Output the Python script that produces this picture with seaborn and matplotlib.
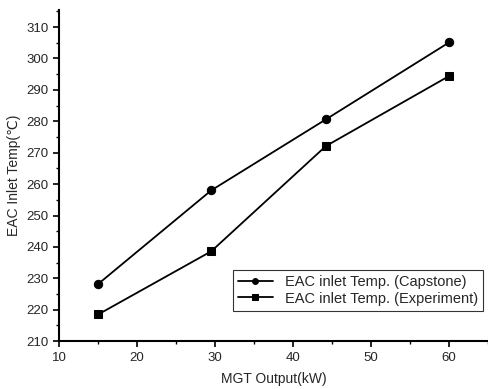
import pandas as pd
import seaborn as sns
import matplotlib.pyplot as plt
from matplotlib.ticker import MultipleLocator

# --- values ---
mgt_output = [15, 29.5, 44.2, 60]
capstone = [228.2, 258.0, 280.6, 305.1]
experiment = [218.5, 238.6, 272.1, 294.4]
series_names = ["EAC inlet Temp. (Capstone)", "EAC inlet Temp. (Experiment)"]

df = pd.DataFrame({
    "MGT": mgt_output * 2,
    "Temp": capstone + experiment,
    "Series": [series_names[0]] * 4 + [series_names[1]] * 4,
})

sns.set_theme(style="ticks")
plt.rcParams['font.family'] = ['Liberation Sans', 'DejaVu Sans']

fig = plt.figure(figsize=(4.89, 3.89), dpi=100)
ax = fig.add_axes([0.121, 0.123, 0.877, 0.851])

sns.lineplot(
    data=df, x="MGT", y="Temp", hue="Series", style="Series",
    palette=["black", "black"], markers=["o", "s"], dashes=False,
    markersize=6, linewidth=1.3, markeredgecolor="black", ax=ax,
)

ax.set_xlim(10, 65)
ax.set_ylim(210, 315.4)
ax.xaxis.set_major_locator(MultipleLocator(10))
ax.xaxis.set_minor_locator(MultipleLocator(5))
ax.yaxis.set_major_locator(MultipleLocator(10))
ax.yaxis.set_minor_locator(MultipleLocator(5))
ax.tick_params(which="major", direction="out", length=4, width=1.2, labelsize=9.5, color="black")
ax.tick_params(which="minor", direction="out", length=2, width=1, color="black")

for s in ["top", "right"]:
    ax.spines[s].set_visible(False)
for s in ["left", "bottom"]:
    ax.spines[s].set_linewidth(1.5)
    ax.spines[s].set_color("black")

ax.set_xlabel("MGT Output(kW)", fontsize=10, labelpad=6)
ax.set_ylabel("EAC Inlet Temp(℃)", fontsize=10, labelpad=4)

leg = ax.legend(loc="lower right", bbox_to_anchor=(1.005, 0.07), fontsize=10.5,
                frameon=True, fancybox=False, edgecolor="black",
                handlelength=2.4, borderpad=0.35, labelspacing=0.15,
                markerscale=0.7)
leg.get_frame().set_linewidth(0.8)

fig.savefig("out.png", dpi=100)
